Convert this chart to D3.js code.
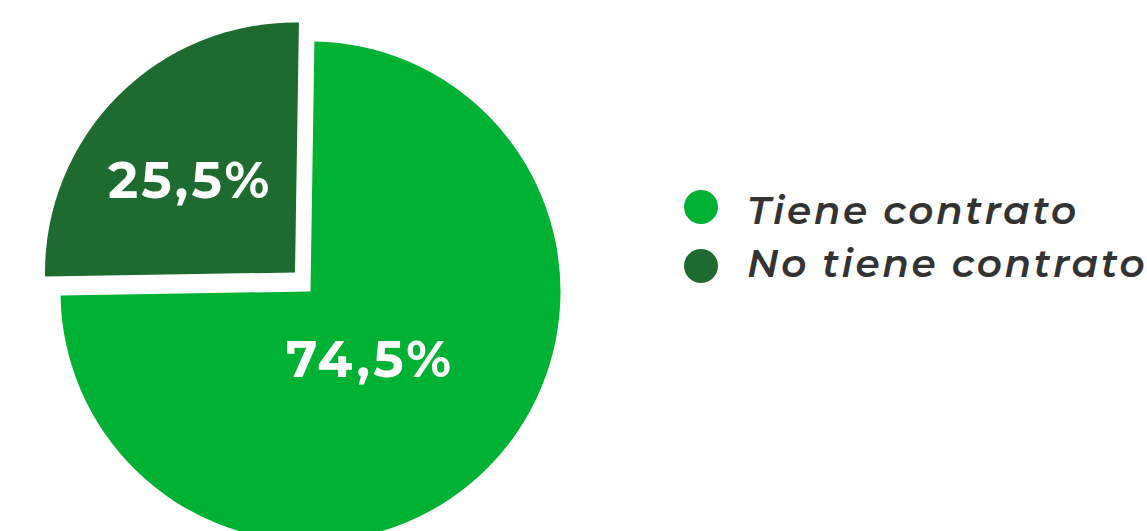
<!DOCTYPE html>
<html lang="es">
<head>
<meta charset="utf-8">
<title>Contrato</title>
<style>
  html, body { margin: 0; padding: 0; background: #fff; overflow: hidden; }
  svg { display: block; }
  .pct { fill: #fff; font-family: Montserrat, "DejaVu Sans", sans-serif; font-weight: bold; letter-spacing: 3.2px; }
  .legend text { fill: #333333; font-family: Montserrat, "DejaVu Sans", sans-serif; font-style: italic; font-weight: 600; letter-spacing: 2.6px; }
</style>
</head>
<body>
<svg width="1147" height="531"></svg>
<script src="https://cdn.jsdelivr.net/npm/d3@7"></script>
<script>
  // data
  const categories = ["Tiene contrato", "No tiene contrato"];
  const values = [74.5, 25.5];
  const colors = ["#00B233", "#1D6B2E"];

  const svg = d3.select("svg");

  const cx = 310.5, cy = 291.5, radius = 250;
  const rot = 0.9 * Math.PI / 180;
  // dark slice pulled out up-left
  const offsets = [[0, 0], [-15.5, -19]];
  // label placement inside each slice (distance, turn from bisector in degrees)
  const labelRadius = [89, 141];
  const labelTurn = [4.5, -4];

  const pie = d3.pie().sort(null).startAngle(rot).endAngle(2 * Math.PI + rot);
  const arcs = pie(values);
  const arc = d3.arc().innerRadius(0).outerRadius(radius);

  const g = svg.append("g").attr("transform", `translate(${cx},${cy})`);

  const slice = g.selectAll("g.slice")
    .data(arcs)
    .enter().append("g")
    .attr("class", "slice")
    .attr("transform", (d, i) => `translate(${offsets[i][0]},${offsets[i][1]})`);

  slice.append("path")
    .attr("d", arc)
    .attr("fill", (d, i) => colors[i]);

  slice.append("text")
    .attr("class", "pct")
    .attr("transform", (d, i) => {
      const a = (d.startAngle + d.endAngle) / 2 + labelTurn[i] * Math.PI / 180;
      return `translate(${Math.sin(a) * labelRadius[i] + 1.6},${-Math.cos(a) * labelRadius[i]})`;
    })
    .attr("text-anchor", "middle")
    .attr("dy", "0.35em")
    .style("font-size", "51px")
    .text(d => d.value.toFixed(1).replace(".", ",") + "%");

  // legend
  const legend = svg.append("g").attr("class", "legend")
    .attr("transform", "translate(701,207)");

  const item = legend.selectAll("g")
    .data(categories)
    .enter().append("g");

  item.append("circle")
    .attr("cy", (d, i) => i * 59)
    .attr("r", 17)
    .attr("fill", (d, i) => colors[i]);

  item.append("text")
    .attr("x", 46)
    .attr("y", (d, i) => 16.5 + i * 53.4)
    .style("font-size", "39px")
    .text(d => d);
</script>
</body>
</html>
